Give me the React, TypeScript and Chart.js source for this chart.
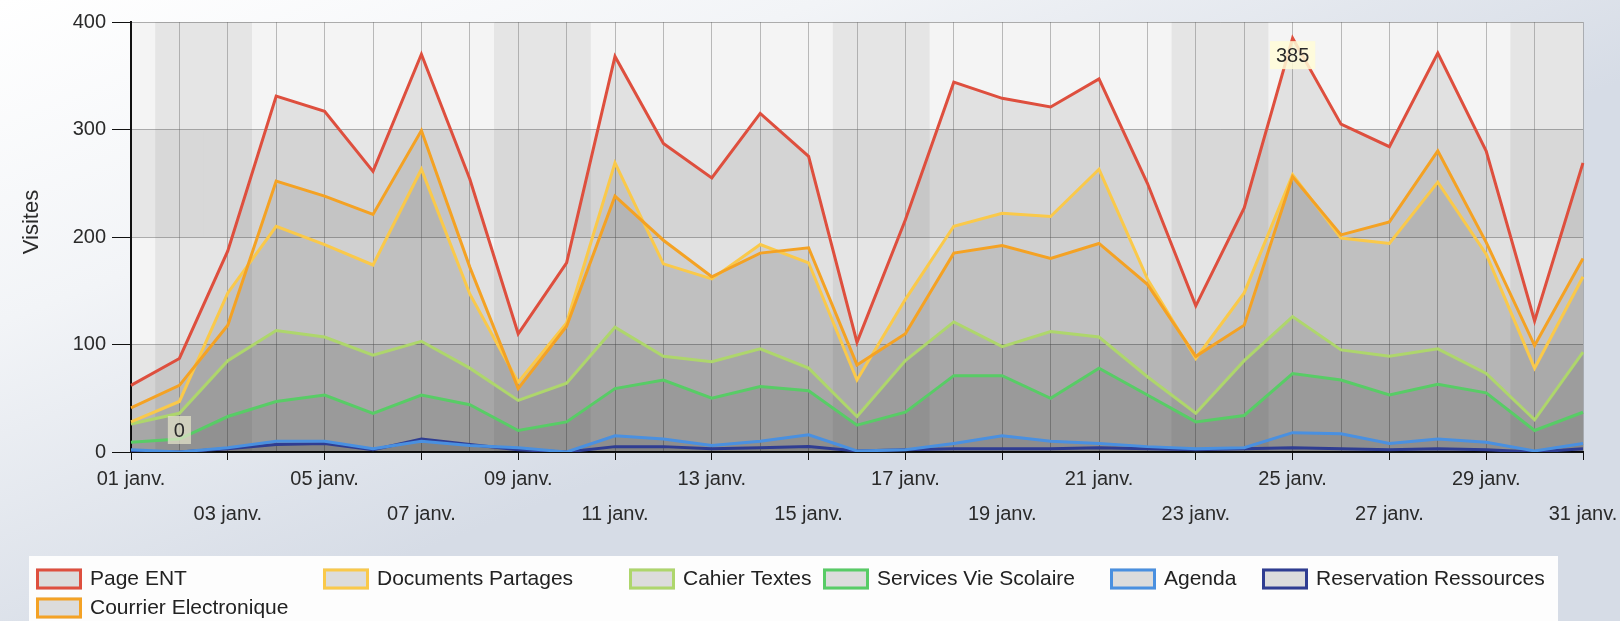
import { useEffect, useRef } from 'react';
import { Chart, registerables } from 'chart.js';

Chart.register(...registerables);

const days = [
  '01 janv.', '02 janv.', '03 janv.', '04 janv.', '05 janv.', '06 janv.', '07 janv.', '08 janv.',
  '09 janv.', '10 janv.', '11 janv.', '12 janv.', '13 janv.', '14 janv.', '15 janv.', '16 janv.',
  '17 janv.', '18 janv.', '19 janv.', '20 janv.', '21 janv.', '22 janv.', '23 janv.', '24 janv.',
  '25 janv.', '26 janv.', '27 janv.', '28 janv.', '29 janv.', '30 janv.', '31 janv.',
];

const weekendDays = ['02 janv.', '03 janv.', '09 janv.', '10 janv.', '16 janv.', '17 janv.', '23 janv.', '24 janv.', '30 janv.', '31 janv.'];

const yTicks = [0, 100, 200, 300, 400];

const pageENT = [62, 87, 187, 331, 317, 261, 370, 254, 110, 176, 368, 287, 255, 315, 275, 102, 216, 344, 329, 321, 347, 250, 136, 227, 385, 305, 284, 371, 280, 122, 269];
const courrierElectronique = [41, 62, 118, 252, 238, 221, 299, 172, 59, 117, 238, 197, 163, 185, 190, 81, 110, 185, 192, 180, 194, 156, 89, 118, 256, 202, 214, 280, 195, 99, 180];
const documentsPartages = [28, 47, 148, 210, 193, 174, 263, 147, 65, 120, 269, 175, 161, 193, 176, 67, 142, 210, 222, 219, 263, 161, 87, 148, 258, 199, 194, 251, 184, 78, 163];
const cahierTextes = [26, 36, 85, 113, 107, 90, 103, 78, 48, 64, 116, 89, 84, 96, 78, 33, 85, 121, 98, 112, 107, 70, 36, 85, 126, 95, 89, 96, 73, 30, 93];
const servicesVieScolaire = [9, 12, 33, 47, 53, 36, 53, 44, 20, 28, 59, 67, 50, 61, 57, 25, 37, 71, 71, 50, 78, 53, 28, 34, 73, 67, 53, 63, 55, 20, 37];
const agenda = [2, 0, 4, 10, 10, 3, 10, 6, 4, 0, 15, 12, 6, 10, 16, 1, 2, 8, 15, 10, 8, 5, 3, 4, 18, 17, 8, 12, 9, 1, 8];
const reservationRessources = [0, 0, 3, 7, 8, 2, 12, 7, 2, 0, 5, 5, 3, 4, 5, 1, 2, 3, 3, 3, 4, 3, 2, 3, 4, 3, 2, 3, 2, 0, 3];

const seriesNames = ['Page ENT', 'Courrier Electronique', 'Documents Partages', 'Cahier Textes', 'Services Vie Scolaire', 'Agenda', 'Reservation Ressources'];
const seriesColors = ['#de4f3e', '#f4a224', '#fac94a', '#aed66c', '#58cc66', '#4a90e0', '#2f3d92'];
const seriesData = [pageENT, courrierElectronique, documentsPartages, cahierTextes, servicesVieScolaire, agenda, reservationRessources];

// legend order as shown (row-major, 6 columns)
const legendOrder = ['Page ENT', 'Documents Partages', 'Cahier Textes', 'Services Vie Scolaire', 'Agenda', 'Reservation Ressources', 'Courrier Electronique'];
const legendColumnX = [36, 323, 629, 823, 1110, 1262];

const FONT = "'Liberation Sans', Arial, sans-serif";

const bgPlugin = {
  id: 'bgPlugin',
  beforeDraw(chart: any) {
    const { ctx, width, height, chartArea: ca, scales } = chart;
    const x = scales.x, y = scales.y;
    ctx.save();
    const g = ctx.createLinearGradient(0, 0, width * 0.15, height);
    g.addColorStop(0, '#ffffff');
    g.addColorStop(0.45, '#f2f4f7');
    g.addColorStop(1, '#d6dce6');
    ctx.fillStyle = g;
    ctx.fillRect(0, 0, width, height);
    // horizontal bands
    for (let k = 0; k < yTicks.length - 1; k++) {
      const t = y.getPixelForValue(yTicks[k + 1]);
      const b = y.getPixelForValue(yTicks[k]);
      ctx.fillStyle = k % 2 === 0 ? '#e6e6e6' : '#f4f4f4';
      ctx.fillRect(ca.left, t, ca.right - ca.left, b - t);
    }
    // weekend bands
    const half = (x.getPixelForValue(1) - x.getPixelForValue(0)) / 2;
    weekendDays.forEach((d) => {
      const i = days.indexOf(d);
      const xc = x.getPixelForValue(i);
      const l = Math.max(ca.left, xc - half);
      const r = Math.min(ca.right, xc + half);
      ctx.fillStyle = 'rgba(0,0,0,0.06)';
      ctx.fillRect(l, ca.top, r - l, ca.bottom - ca.top);
    });
    // axis title
    ctx.translate(32, (ca.top + ca.bottom) / 2);
    ctx.rotate(-Math.PI / 2);
    ctx.font = `22px ${FONT}`;
    ctx.fillStyle = '#2a2a2a';
    ctx.textAlign = 'center';
    ctx.textBaseline = 'middle';
    ctx.fillText('Visites', 15, 0);
    ctx.restore();
  },
};

const markerPlugin = {
  id: 'markerPlugin',
  afterDatasetsDraw(chart: any) {
    const { ctx, scales } = chart;
    const x = scales.x, y = scales.y;
    const drawLabel = (idx: number, val: number, dy: number, bg: string) => {
      const px = x.getPixelForValue(idx);
      const py = y.getPixelForValue(val) + dy;
      ctx.save();
      ctx.font = `20px ${FONT}`;
      const txt = String(val);
      const w = ctx.measureText(txt).width + 12;
      ctx.fillStyle = bg;
      ctx.fillRect(px - w / 2, py - 14, w, 28);
      ctx.fillStyle = '#2a2a2a';
      ctx.textAlign = 'center';
      ctx.textBaseline = 'middle';
      ctx.fillText(txt, px, py + 1);
      ctx.restore();
    };
    const maxVal = Math.max(...pageENT);
    drawLabel(pageENT.indexOf(maxVal), maxVal, 17, 'rgba(255,251,215,0.85)');
    const minVal = Math.min(...agenda);
    drawLabel(agenda.indexOf(minVal), minVal, -22, 'rgba(225,225,200,0.75)');
  },
};

const legendPlugin = {
  id: 'customLegend',
  afterDraw(chart: any) {
    const { ctx } = chart;
    ctx.save();
    ctx.fillStyle = '#fdfdfd';
    ctx.fillRect(29, 556, 1529, 70);
    ctx.font = `21px ${FONT}`;
    ctx.textBaseline = 'middle';
    const cols = 6;
    const boxW = 46, boxH = 21, gapText = 8;
    const rowY = [579, 608];
    legendOrder.forEach((name, i) => {
      const c = i % cols;
      const r = Math.floor(i / cols);
      const xs = legendColumnX[c];
      const cy = rowY[r];
      const color = seriesColors[seriesNames.indexOf(name)];
      ctx.fillStyle = '#dcdcdc';
      ctx.fillRect(xs, cy - boxH / 2, boxW, boxH);
      ctx.strokeStyle = color;
      ctx.lineWidth = 3;
      ctx.strokeRect(xs + 1.5, cy - boxH / 2 + 1.5, boxW - 3, boxH - 3);
      ctx.fillStyle = '#222';
      ctx.fillText(name, xs + boxW + gapText, cy);
    });
    ctx.restore();
  },
};

export default function App() {
  const ref = useRef<HTMLCanvasElement | null>(null);
  useEffect(() => {
    document.body.style.margin = '0';
    Chart.defaults.font.family = FONT;
    const canvas = ref.current!;
    const chart = new Chart(canvas, {
      type: 'line',
      data: {
        labels: days,
        datasets: seriesNames.map((name, i) => ({
          label: name,
          data: seriesData[i],
          borderColor: seriesColors[i],
          backgroundColor: 'rgba(0,0,0,0.075)',
          borderWidth: 3,
          pointRadius: 0,
          tension: 0,
          fill: 'origin',
        })),
      },
      options: {
        animation: false,
        responsive: false,
        devicePixelRatio: 1,
        layout: { padding: { left: 0, right: 37, top: 22, bottom: 0 } },
        plugins: {
          legend: { display: false },
          tooltip: { enabled: false },
          filler: { drawTime: 'beforeDatasetsDraw' },
        },
        scales: {
          x: {
            offset: false,
            border: { color: '#111', width: 2 },
            grid: {
              color: 'rgba(110,110,110,0.45)',
              tickColor: (ctx: any) => (ctx.index % 2 === 0 ? '#111' : 'rgba(0,0,0,0)'),
              tickLength: 8,
            },
            ticks: {
              autoSkip: false,
              maxRotation: 0,
              padding: 2,
              color: '#2a2a2a',
              font: { size: 20, lineHeight: 1.75 },
              callback: (_v: any, idx: number) => (idx % 4 === 0 ? days[idx] : idx % 4 === 2 ? ['', days[idx]] : ''),
            },
            afterFit: (s: any) => {
              s.height = 169;
              s.paddingLeft = 0;
              s.paddingRight = 0;
            },
          },
          y: {
            min: 0,
            max: 400,
            border: { color: '#111', width: 2 },
            grid: {
              color: (ctx: any) => (ctx.tick && ctx.tick.value === 0 ? 'rgba(0,0,0,0)' : 'rgba(100,100,100,0.5)'),
              tickColor: '#111',
              tickLength: 19,
            },
            ticks: {
              stepSize: 100,
              padding: 6,
              color: '#2a2a2a',
              font: { size: 20 },
            },
            afterFit: (s: any) => {
              s.width = 131;
            },
          },
        },
      },
      plugins: [bgPlugin, markerPlugin, legendPlugin],
    });
    return () => chart.destroy();
  }, []);
  return <canvas ref={ref} width={1620} height={621} style={{ display: 'block', width: 1620, height: 621 }} />;
}
